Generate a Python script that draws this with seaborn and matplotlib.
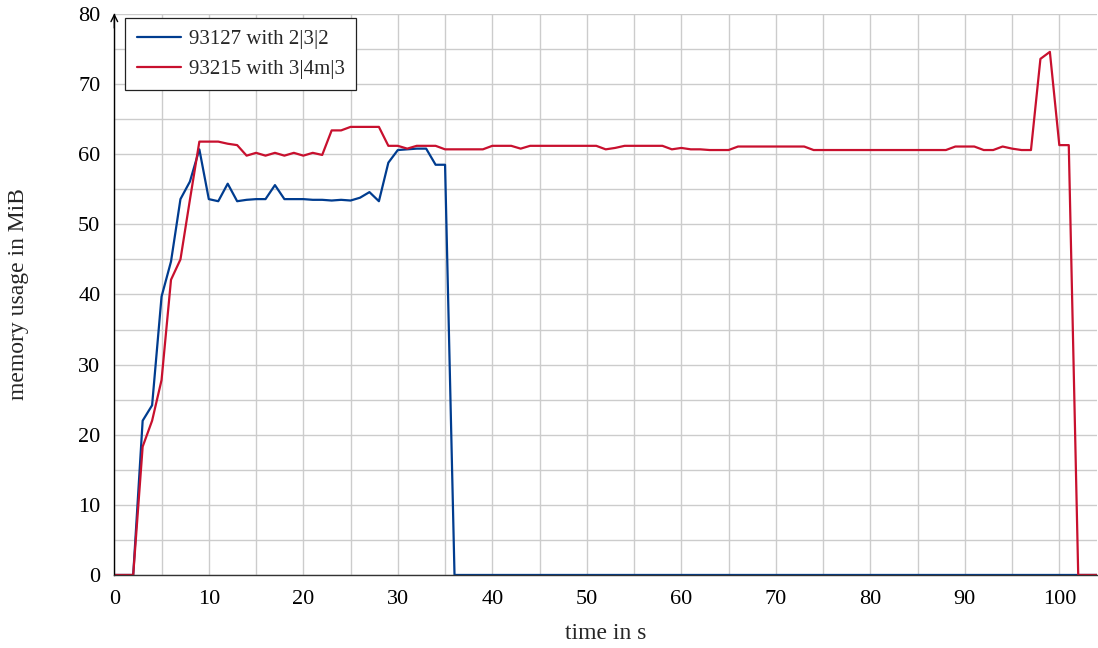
import numpy as np
import matplotlib
matplotlib.use("Agg")
import matplotlib.pyplot as plt
from matplotlib.ticker import MultipleLocator
import pandas as pd
import seaborn as sns

# memory samples, one per second (t = 0 .. 104)
time_s = list(range(105))

mem_93127 = [
    0, 0, 0, 22.0, 24.2, 39.7, 44.7, 53.6, 56.1, 60.7,
    53.6, 53.3, 55.8, 53.3, 53.5, 53.6, 53.6, 55.6, 53.6, 53.6,
    53.6, 53.5, 53.5, 53.4, 53.5, 53.4, 53.8, 54.6, 53.3, 58.8,
    60.6, 60.7, 60.8, 60.8, 58.5, 58.5, 0, 0, 0, 0,
    0, 0, 0, 0, 0, 0, 0, 0, 0, 0,
    0, 0, 0, 0, 0, 0, 0, 0, 0, 0,
    0, 0, 0, 0, 0, 0, 0, 0, 0, 0,
    0, 0, 0, 0, 0, 0, 0, 0, 0, 0,
    0, 0, 0, 0, 0, 0, 0, 0, 0, 0,
    0, 0, 0, 0, 0, 0, 0, 0, 0, 0,
    0, 0, 0, 0, 0,
]

mem_93215 = [
    0, 0, 0, 18.3, 22.0, 27.8, 42.1, 45.0, 53.5, 61.8,
    61.8, 61.8, 61.5, 61.3, 59.8, 60.2, 59.8, 60.2, 59.8, 60.2,
    59.8, 60.2, 59.9, 63.4, 63.4, 63.9, 63.9, 63.9, 63.9, 61.2,
    61.2, 60.8, 61.2, 61.2, 61.2, 60.7, 60.7, 60.7, 60.7, 60.7,
    61.2, 61.2, 61.2, 60.8, 61.2, 61.2, 61.2, 61.2, 61.2, 61.2,
    61.2, 61.2, 60.7, 60.9, 61.2, 61.2, 61.2, 61.2, 61.2, 60.7,
    60.9, 60.7, 60.7, 60.6, 60.6, 60.6, 61.1, 61.1, 61.1, 61.1,
    61.1, 61.1, 61.1, 61.1, 60.6, 60.6, 60.6, 60.6, 60.6, 60.6,
    60.6, 60.6, 60.6, 60.6, 60.6, 60.6, 60.6, 60.6, 60.6, 61.1,
    61.1, 61.1, 60.6, 60.6, 61.1, 60.8, 60.6, 60.6, 73.6, 74.6,
    61.3, 61.3, 0, 0, 0,
]

labels = ["93127 with 2|3|2", "93215 with 3|4m|3"]
colors = ["#003C8F", "#C8102E"]

df = pd.DataFrame({
    "time": time_s * 2,
    "mem": mem_93127 + mem_93215,
    "run": [labels[0]] * len(time_s) + [labels[1]] * len(time_s),
})

sns.set_theme(style="white")
plt.rcParams["font.family"] = ["Liberation Serif", "DejaVu Serif"]

fig = plt.figure(figsize=(10.98, 6.48), dpi=100)
ax = fig.add_axes([0.1041, 0.1127, 0.8951, 0.8657])

sns.lineplot(data=df, x="time", y="mem", hue="run", palette=colors,
             linewidth=1.6, ax=ax, legend=True)

ax.set_xlim(0, 104)
ax.set_ylim(0, 80)
ax.xaxis.set_major_locator(MultipleLocator(10))
ax.xaxis.set_minor_locator(MultipleLocator(5))
ax.yaxis.set_major_locator(MultipleLocator(10))
ax.yaxis.set_minor_locator(MultipleLocator(5))
ax.grid(which="both", color="#cccccc", linewidth=1.0)
ax.set_axisbelow(True)

for s in ["top", "right"]:
    ax.spines[s].set_visible(False)
ax.spines["left"].set_color("black")
ax.spines["left"].set_linewidth(1.0)
ax.spines["bottom"].set_color("#333333")
ax.spines["bottom"].set_linewidth(1.0)
ax.tick_params(axis="x", which="both", direction="inout", length=5, width=0.8,
               color="#555555", labelsize=16, labelcolor="black", pad=8)
ax.tick_params(axis="y", which="both", direction="out", length=5, width=0.8,
               color="#aaaaaa", labelsize=16, labelcolor="black", pad=5)
ax.annotate("", xy=(0, 1.006), xytext=(0, 0.97), xycoords="axes fraction",
            arrowprops=dict(arrowstyle="->", lw=1.0, color="black"))

ax.set_xlabel("time in s", fontsize=17)
ax.set_ylabel("memory usage in MiB", fontsize=17)
ax.xaxis.set_label_coords(0.5, -0.085)
ax.yaxis.set_label_coords(-0.087, 0.5)

ax.legend(loc="upper left", bbox_to_anchor=(0.011, 0.993), borderaxespad=0,
          fontsize=15, frameon=True, fancybox=False, edgecolor="#222222",
          framealpha=1, handlelength=2.15, handletextpad=0.35,
          borderpad=0.55, labelspacing=0.5)
ax.get_legend().get_frame().set_linewidth(0.9)

fig.savefig("out.png", dpi=100)
